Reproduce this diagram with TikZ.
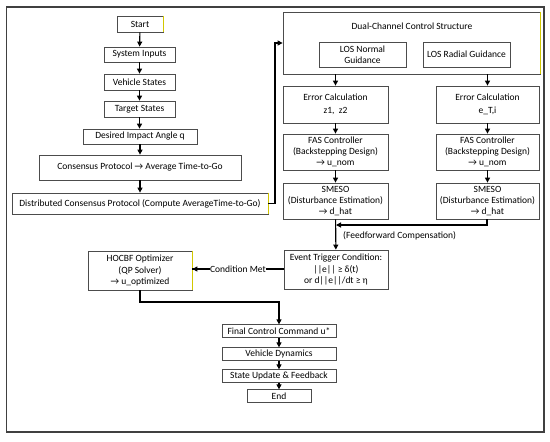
\documentclass[tikz,border=0pt]{standalone}
\usepackage{fontspec}
\setmainfont{Carlito}
\usetikzlibrary{arrows.meta}
\begin{document}
\begin{tikzpicture}[x=1pt,y=-1pt,
  box/.style={draw=black!70, line width=0.8pt, fill=white, align=center, inner sep=1pt, font=\fontsize{9.5}{11.2}\selectfont},
  arr/.style={draw=black, line width=1.1pt, -{Triangle[length=5pt,width=5pt]}},
  ln/.style={draw=black, line width=1.1pt},
  yedge/.style={draw=yellow!60!olive, line width=1pt},
  lbl/.style={font=\fontsize{9.5}{11.2}\selectfont, inner sep=1pt}]
\useasboundingbox (0,0) rectangle (550,442);
\draw[draw=black!75, line width=1.4pt] (6.5,7) rectangle (544,432);
% left column
\node[box, minimum width=46pt, minimum height=16pt] (start) at (140,24) {Start};
\node[box, minimum width=71pt, minimum height=15pt] (inputs) at (139.5,54.5) {System Inputs};
\node[box, minimum width=71pt, minimum height=16pt] (veh) at (139.5,82) {Vehicle States};
\node[box, minimum width=71pt, minimum height=16pt] (tgt) at (139.5,109) {Target States};
\node[box, minimum width=114pt, minimum height=15pt] (des) at (140,136.5) {Desired Impact Angle q};
\node[box, minimum width=202pt, minimum height=25pt] (cons) at (140,167.5) {Consensus Protocol → Average Time-to-Go};
\node[box, minimum width=256pt, minimum height=21pt] (dist) at (140,203.5) {Distributed Consensus Protocol (Compute AverageTime-to-Go)};
% dual channel
\node[box, minimum width=257pt, minimum height=62pt] (dual) at (411.5,43) {};
\node[lbl] (dualt) at (412,26) {Dual-Channel Control Structure};
\node[box, minimum width=87pt, minimum height=25pt] (losn) at (362.5,54.5) {LOS Normal\\Guidance};
\node[box, minimum width=87pt, minimum height=25pt] (losr) at (466.5,54.5) {LOS Radial Guidance};
\node[box, minimum width=105pt, minimum height=37pt] (err1) at (335.5,104.5) {Error Calculation\\[2pt]z1,\ \ z2};
\node[box, minimum width=103pt, minimum height=37pt] (err2) at (487.5,104.5) {Error Calculation\\[2pt]e\_T,i};
\node[box, minimum width=105pt, minimum height=36pt] (fas1) at (335.5,152) {FAS Controller\\(Backstepping Design)\\→ u\_nom};
\node[box, minimum width=103pt, minimum height=36pt] (fas2) at (487.5,152) {FAS Controller\\(Backstepping Design)\\→ u\_nom};
\node[box, minimum width=105pt, minimum height=36pt] (sm1) at (335.5,201) {SMESO\\(Disturbance Estimation)\\→ d\_hat};
\node[box, minimum width=103pt, minimum height=36pt] (sm2) at (487.5,201) {SMESO\\(Disturbance Estimation)\\→ d\_hat};
\node[box, minimum width=104pt, minimum height=39pt] (evt) at (336,269.5) {Event Trigger Condition:\\||e|| ≥ δ(t)\\or d||e||/dt ≥ η};
\node[box, minimum width=104pt, minimum height=39pt] (hoc) at (140,270.5) {HOCBF Optimizer\\(QP Solver)\\→ u\_optimized};
% bottom
\node[box, minimum width=114pt, minimum height=12.5pt] (fin) at (279,331) {Final Control Command u*};
\node[box, minimum width=114pt, minimum height=12.5pt] (vdyn) at (279,354) {Vehicle Dynamics};
\node[box, minimum width=114pt, minimum height=12.5pt] (stu) at (279,376) {State Update \& Feedback};
\node[box, minimum width=64pt, minimum height=12.5pt] (end) at (279,396) {End};
% yellow right edges
\draw[yedge] (start.north east) -- (start.south east);
\draw[yedge] (dual.north east) -- (dual.south east);
\draw[yedge] (dist.north east) -- (dist.south east);
\draw[yedge] (hoc.north east) -- (hoc.south east);
% coordinates
\coordinate (c1) at (275,203.5);
\coordinate (c2) at (275,43);
\coordinate (c3) at (487,225);
\coordinate (c4) at (336,225);
\coordinate (c5) at (140,302);
\coordinate (c6) at (279,302);
% arrows
\draw[arr] (start) -- (inputs);
\draw[arr] (inputs) -- (veh);
\draw[arr] (veh) -- (tgt);
\draw[arr] (tgt) -- (des.north -| tgt);
\draw[arr] (des) -- (cons);
\draw[arr] (cons) -- (dist);
\draw[arr] (dist.east) -- (c1) -- (c2) -- (dual.west);
\draw[arr] (dual.south -| err1) -- (err1);
\draw[arr] (dual.south -| err2) -- (err2);
\draw[arr] (err1) -- (fas1);
\draw[arr] (err2) -- (fas2);
\draw[arr] (fas1) -- (sm1);
\draw[arr] (fas2) -- (sm2);
\draw[arr] (sm1) -- (evt);
\draw[arr] (sm2.south -| c3) -- (c3) -- (c4);
\node[lbl, anchor=west] (ff) at (342,235.5) {(Feedforward Compensation)};
\draw[ln] (evt.west |- 0,269) -- node[lbl, fill=white, inner sep=0.5pt] (cm) {Condition Met} (hoc.east |- 0,269);
\draw[arr] (cm.west) -- (hoc.east |- 0,269);
\draw[arr] (hoc.south) -- (c5) -- (c6) -- (fin.north);
\draw[arr] (fin) -- (vdyn);
\draw[arr] (vdyn) -- (stu);
\draw[arr] (stu) -- (end);
\end{tikzpicture}
\end{document}
